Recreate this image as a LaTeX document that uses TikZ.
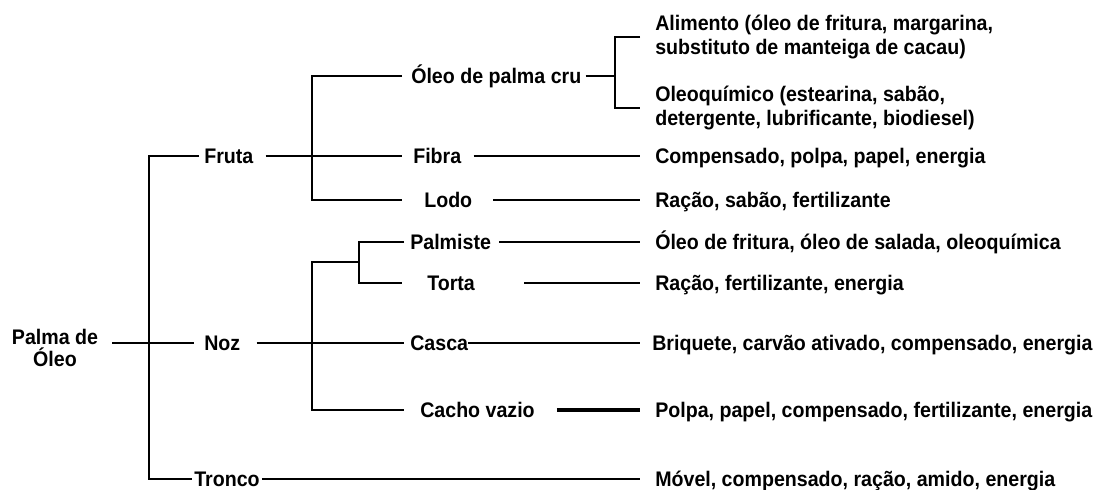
\documentclass[tikz,border=0pt]{standalone}
\usepackage{fontspec}
\setmainfont{Liberation Sans}[FakeStretch=0.93]
\usepackage{tikz}
\usetikzlibrary{calc}

\begin{document}
\begin{tikzpicture}[
        voce/.style={font=\fontsize{15}{16}\selectfont\bfseries, inner sep=0pt, anchor=west, text height=10.7pt, text depth=0pt},
        blocco/.style={font=\fontsize{15}{17}\selectfont\bfseries, inner sep=0pt, anchor=west, align=left},
        ramo/.style={black, line width=1.6pt},
        ramospesso/.style={black, line width=2.4pt}]
        
        % Area del disegno
        \useasboundingbox (0,0) rectangle (27.5,12.25);
        
        % Radice
        \node[font=\fontsize{15}{16}\selectfont\bfseries, align=center, inner sep=0pt] (palma) at (1.375,3.55) {Palma de\\Óleo};
        
        % Primo livello
        \node[voce] (fruta) at (5.1,8.35) {Fruta};
        \node[voce] (noz) at (5.1,3.675) {Noz};
        \node[voce] (tronco) at (4.85,0.275) {Tronco};
        
        % Secondo livello (frutto)
        \node[voce] (oleo) at (10.275,10.35) {Óleo de palma cru};
        \node[voce] (fibra) at (10.325,8.35) {Fibra};
        \node[voce] (lodo) at (10.6,7.25) {Lodo};
        
        % Secondo livello (noce)
        \node[voce] (palmiste) at (10.25,6.2) {Palmiste};
        \node[voce] (torta) at (10.675,5.175) {Torta};
        \node[voce] (casca) at (10.25,3.675) {Casca};
        \node[voce] (cacho) at (10.5,2.0) {Cacho vazio};
        
        % Prodotti finali
        \node[blocco] (alimento) at (16.375,11.325) {Alimento (óleo de fritura, margarina,\\substituto de manteiga de cacau)};
        \node[blocco] (oleoq) at (16.375,9.55) {Oleoquímico (estearina, sabão,\\detergente, lubrificante, biodiesel)};
        \node[voce] (compensado) at (16.375,8.35) {Compensado, polpa, papel, energia};
        \node[voce] (racaoa) at (16.375,7.25) {Ração, sabão, fertilizante};
        \node[voce] (oleof) at (16.375,6.2) {Óleo de fritura, óleo de salada, oleoquímica};
        \node[voce] (racaob) at (16.375,5.175) {Ração, fertilizante, energia};
        \node[voce] (briquete) at (16.3,3.675) {Briquete, carvão ativado, compensado, energia};
        \node[voce] (polpa) at (16.375,2.0) {Polpa, papel, compensado, fertilizante, energia};
        \node[voce] (movel) at (16.375,0.275) {Móvel, compensado, ração, amido, energia};
        
        % Punti di giunzione
        \coordinate (t2) at (3.725,0.275);
        \coordinate (f2) at (7.8,7.25);
        \coordinate (n1) at (8.975,5.7);
        \coordinate (n2) at (7.8,2.0);
        \coordinate (k2) at (8.975,5.175);
        \coordinate (p2) at (15.375,9.55);
        
        % Tronco principale
        \draw[ramo] ([xshift=0.35cm]palma.east |- noz.west) -- ([xshift=-0.25cm]noz.west);
        \draw[ramo] ([xshift=-0.125cm]fruta.west) -| (t2) -- ([xshift=-0.05cm]tronco.west);
        
        % Rami del frutto
        \draw[ramo] ([xshift=0.3cm]fruta.east) -- ([xshift=-0.275cm]fibra.west);
        \draw[ramo] ([xshift=-0.225cm]oleo.west) -| (f2) -- ([xshift=-0.55cm]lodo.west);
        \draw[ramo] ([xshift=0.1cm]oleo.east) -- (oleo.east -| p2);
        \draw[ramo] ([xshift=-0.375cm]alimento.west) -| (p2) -- ([xshift=-0.375cm]oleoq.west);
        
        % Rami della noce
        \draw[ramo] ([xshift=0.4cm]noz.east) -- ([xshift=-0.15cm]casca.west);
        \draw[ramo] (n1) -| (n2) -- ([xshift=-0.4cm]cacho.west);
        \draw[ramo] ([xshift=-0.15cm]palmiste.west) -| (k2) -- ([xshift=-0.625cm]torta.west);
        
        % Collegamenti ai prodotti
        \foreach \a/\s/\b in {fibra/0.3/compensado, lodo/0.525/racaoa, palmiste/0.2/oleof, torta/1.225/racaob, tronco/0.05/movel} {
            \draw[ramo] ([xshift=\s cm]\a.east) -- ([xshift=-0.375cm]\b.west);
        }
        \draw[ramo] (casca.east) -- ([xshift=-0.3cm]briquete.west);
        \draw[ramospesso] ([xshift=0.55cm]cacho.east) -- ([xshift=-0.375cm]polpa.west);
        
    \end{tikzpicture}
\end{document}
